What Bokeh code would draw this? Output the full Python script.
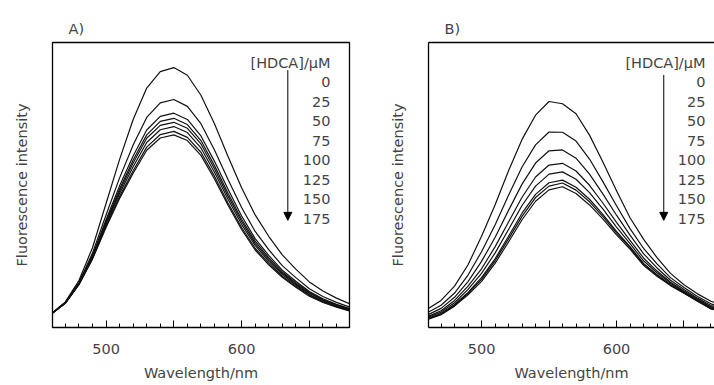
from bokeh.plotting import figure
from bokeh.layouts import row
from bokeh.models import Range1d, FixedTicker, Arrow, NormalHead, LinearAxis, Label
from bokeh.embed import file_html
from bokeh.resources import INLINE

# ---------------- data ----------------
wavelength = [460, 470, 480, 490, 500, 510, 520, 530, 540, 550, 560, 570,
              580, 590, 600, 610, 620, 630, 640, 650, 660, 670, 680]
concentrations = ["0", "25", "50", "75", "100", "125", "150", "175"]
x_tick_labels = {500: "500", 600: "600"}

# Panel A (fluorescence intensity, arbitrary units)
a_0 = [5.0, 9.0, 16.5, 28.0, 43.5, 59.0, 73.0, 84.0, 89.8, 91.2, 88.5, 81.5,
       71.5, 60.0, 49.0, 39.5, 32.0, 25.5, 20.5, 16.0, 12.8, 10.3, 8.3]
a_25 = [4.9, 8.8, 15.8, 26.1, 39.5, 52.5, 64.0, 73.7, 78.8, 80.0, 77.6, 71.5,
        62.3, 51.9, 42.1, 33.7, 27.3, 21.7, 17.5, 13.6, 10.9, 8.8, 7.1]
a_50 = [4.9, 8.7, 15.5, 25.3, 37.8, 49.7, 60.2, 69.3, 74.1, 75.2, 73.0, 67.2,
        58.3, 48.5, 39.1, 31.2, 25.3, 20.1, 16.2, 12.6, 10.1, 8.1, 6.6]
a_75 = [4.9, 8.6, 15.4, 25.0, 37.1, 48.6, 58.8, 67.6, 72.3, 73.4, 71.2, 65.6,
        56.8, 47.1, 38.0, 30.3, 24.5, 19.5, 15.7, 12.3, 9.8, 7.9, 6.4]
a_100 = [4.9, 8.6, 15.3, 24.8, 36.6, 47.8, 57.7, 66.4, 70.9, 72.0, 69.9, 64.4,
         55.7, 46.1, 37.2, 29.5, 23.9, 19.1, 15.3, 12.0, 9.6, 7.7, 6.2]
a_125 = [4.9, 8.6, 15.2, 24.5, 36.1, 47.0, 56.4, 64.9, 69.4, 70.5, 68.4, 63.0,
         54.5, 45.0, 36.2, 28.8, 23.3, 18.6, 14.9, 11.6, 9.3, 7.5, 6.0]
a_150 = [4.9, 8.6, 15.1, 24.2, 35.5, 46.0, 55.0, 63.3, 67.7, 68.8, 66.7, 61.5,
         53.1, 43.7, 35.1, 27.8, 22.6, 18.0, 14.5, 11.3, 9.0, 7.3, 5.9]
a_175 = [4.9, 8.5, 15.0, 24.0, 35.1, 45.3, 54.1, 62.2, 66.5, 67.6, 65.6, 60.4,
         52.1, 42.9, 34.4, 27.2, 22.0, 17.6, 14.1, 11.0, 8.8, 7.1, 5.7]

# Panel B
b_0 = [6.5, 9.5, 14.5, 22.0, 32.0, 43.0, 55.0, 66.0, 74.5, 79.3, 78.5, 75.0,
       67.5, 58.0, 48.0, 38.5, 31.0, 24.5, 19.0, 15.0, 11.8, 9.2, 7.5]
b_25 = [5.2, 7.8, 12.1, 18.4, 26.6, 36.0, 46.4, 56.3, 64.1, 68.6, 68.5, 65.4,
        59.1, 51.1, 42.7, 34.7, 27.8, 22.3, 17.5, 14.0, 10.9, 8.3, 6.7]
b_50 = [4.4, 6.7, 10.6, 16.1, 23.2, 31.6, 41.1, 50.3, 57.7, 62.0, 62.3, 59.4,
        53.8, 46.8, 39.4, 32.4, 25.9, 20.9, 16.6, 13.3, 10.3, 7.7, 6.3]
b_75 = [3.8, 5.9, 9.5, 14.5, 20.6, 28.3, 37.0, 45.7, 52.8, 57.0, 57.6, 54.9,
        49.9, 43.6, 36.9, 30.6, 24.4, 19.8, 15.9, 12.8, 9.9, 7.3, 5.9]
b_100 = [3.5, 5.4, 8.7, 13.4, 19.0, 26.1, 34.4, 42.8, 49.6, 53.8, 54.6, 52.0,
         47.3, 41.5, 35.2, 29.4, 23.4, 19.2, 15.5, 12.5, 9.7, 7.0, 5.7]
b_125 = [3.1, 4.9, 8.1, 12.3, 17.5, 24.1, 32.0, 40.1, 46.7, 50.8, 51.7, 49.2,
         45.0, 39.6, 33.7, 28.4, 22.5, 18.5, 15.0, 12.2, 9.4, 6.7, 5.5]
b_150 = [3.0, 4.7, 7.8, 12.0, 16.9, 23.4, 31.1, 39.0, 45.6, 49.6, 50.7, 48.2,
         44.1, 38.9, 33.2, 28.0, 22.2, 18.3, 14.9, 12.1, 9.3, 6.6, 5.4]
b_175 = [2.8, 4.5, 7.5, 11.5, 16.2, 22.5, 30.0, 37.8, 44.3, 48.3, 49.4, 47.0,
         43.0, 38.0, 32.5, 27.5, 21.8, 18.0, 14.7, 12.0, 9.2, 6.5, 5.3]

panel_a_curves = [a_0, a_25, a_50, a_75, a_100, a_125, a_150, a_175]
panel_b_curves = [b_0, b_25, b_50, b_75, b_100, b_125, b_150, b_175]

FONT = "DejaVu Sans"
FS = "14.5px"


def make_panel(title, curves, x_start, x_end, width, border_left, border_right,
               boxed, legend_x, arrow_x, arrow_top):
    p = figure(width=width, height=385, output_backend="svg", toolbar_location=None,
               x_range=Range1d(x_start, x_end), y_range=Range1d(0, 100),
               min_border_left=border_left, min_border_right=border_right,
               min_border_top=42, min_border_bottom=58)
    p.grid.visible = False
    p.background_fill_color = "white"
    p.border_fill_color = "white"

    for ys in curves:
        p.line(wavelength, ys, line_color="#111111", line_width=1.2,
               line_join="round")

    # x axis
    xa = p.xaxis[0]
    xa.ticker = FixedTicker(ticks=[500, 550, 600, 650],
                            minor_ticks=wavelength)
    xa.major_label_overrides = {550: "", 650: "", **x_tick_labels}
    xa.major_tick_in = 7
    xa.major_tick_out = 0
    xa.minor_tick_in = 4
    xa.minor_tick_out = 0
    xa.major_tick_line_color = "black"
    xa.minor_tick_line_color = "black"
    xa.major_label_standoff = 16
    xa.major_label_text_font = FONT
    xa.major_label_text_font_size = FS
    xa.axis_label = "Wavelength/nm"
    xa.axis_label_text_font = FONT
    xa.axis_label_text_font_size = FS
    xa.axis_label_text_font_style = "normal"
    xa.axis_label_standoff = 8

    # y axis
    ya = p.yaxis[0]
    ya.ticker = FixedTicker(ticks=[])
    ya.major_tick_line_color = None
    ya.minor_tick_line_color = None
    ya.major_label_text_font_size = "0px"
    ya.major_label_standoff = 0
    ya.axis_label = "Fluorescence intensity"
    ya.axis_label_text_font = FONT
    ya.axis_label_text_font_size = FS
    ya.axis_label_text_font_style = "normal"
    ya.axis_label_standoff = 23

    if boxed:
        p.outline_line_color = "black"
        p.outline_line_width = 1.3
        p.outline_line_alpha = 1.0
        xa.axis_line_color = None
        ya.axis_line_color = None
    else:
        p.outline_line_color = None
        xa.axis_line_color = "black"
        xa.axis_line_width = 1.3
        ya.axis_line_color = "black"
        ya.axis_line_width = 1.3
        top = LinearAxis(ticker=FixedTicker(ticks=[]), axis_line_color="black",
                         axis_line_width=1.3, major_tick_line_color=None,
                         minor_tick_line_color=None,
                         major_label_text_font_size="0px", major_label_standoff=0)
        p.add_layout(top, "above")

    p.title.text = title
    p.title.align = "left"
    p.title.offset = 16
    p.title.standoff = 12
    p.title.text_font = FONT
    p.title.text_font_size = FS
    p.title.text_font_style = "normal"

    # concentration legend
    header_y = 92.8
    step = 6.82
    p.add_layout(Label(x=legend_x, y=header_y, text="[HDCA]/\u00b5M",
                       text_align="right", text_baseline="middle",
                       text_font=FONT, text_font_size=FS))
    for i, c in enumerate(concentrations):
        p.add_layout(Label(x=legend_x, y=header_y - step * (i + 1), text=c,
                           text_align="right", text_baseline="middle",
                           text_font=FONT, text_font_size=FS))
    p.add_layout(Arrow(end=NormalHead(size=8, fill_color="black", line_color="black"),
                       x_start=arrow_x, y_start=arrow_top,
                       x_end=arrow_x, y_end=37.6,
                       line_color="black", line_width=1.0))
    return p


pa = make_panel("A)", panel_a_curves, 460.5, 679.6, 360, 52, 11, True,
                665.6, 634.1, 90.3)
pb = make_panel("B)", panel_b_curves, 460.7, 672.6, 354, 68, 0, False,
                665.9, 635.0, 88.6)

layout = row(pa, pb, spacing=0)
open("out.html", "w").write(file_html(layout, INLINE))
